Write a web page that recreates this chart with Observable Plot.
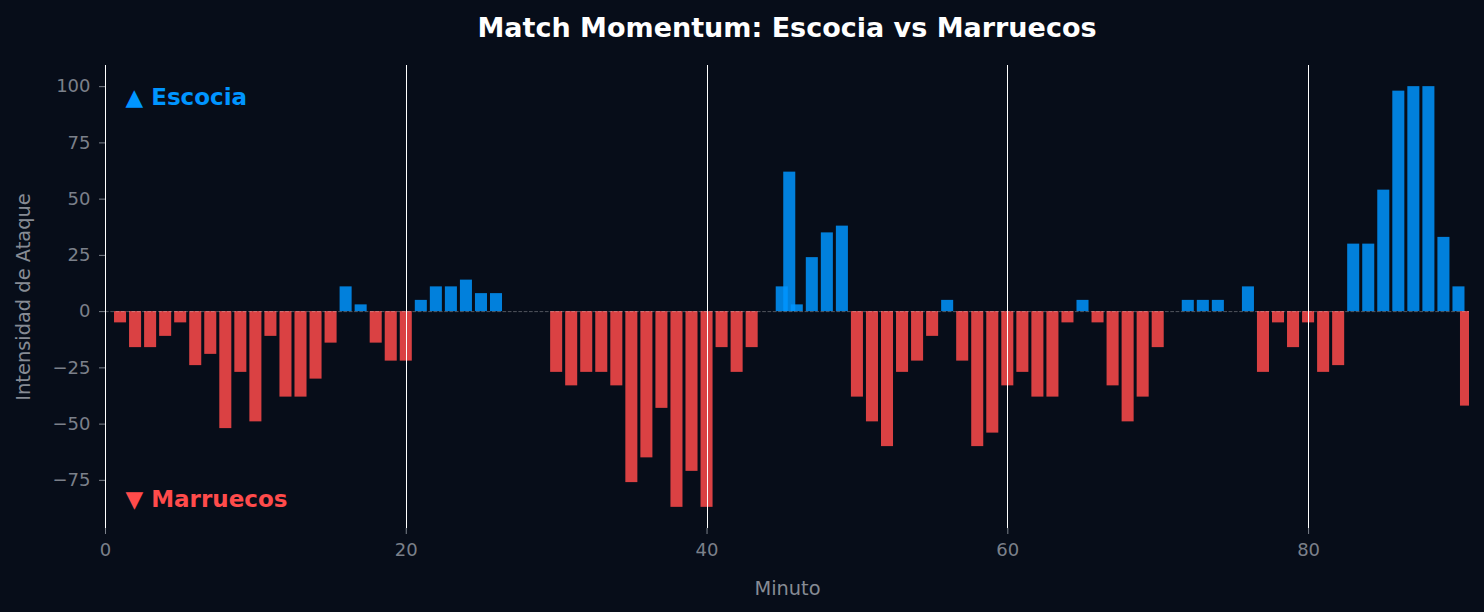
<!DOCTYPE html>
<html>
<head>
<meta charset="utf-8">
<script src="https://cdn.jsdelivr.net/npm/d3@7"></script>
<script src="https://cdn.jsdelivr.net/npm/@observablehq/plot@0.6"></script>
<style>
  html, body { margin: 0; padding: 0; background: #070d19; }
  #title {
    box-sizing: border-box; height: 55px; width: 1484px;
    padding: 14px 15px 0 105px; text-align: center;
    font-family: "DejaVu Sans", sans-serif; font-weight: bold;
    font-size: 27px; line-height: 27px; color: #ffffff;
  }
  #chart svg { display: block; }
</style>
</head>
<body>
<div id="title">Match Momentum: Escocia vs Marruecos</div>
<div id="chart"></div>
<script>
const teams = ["Escocia", "Marruecos"];
const minutes = [1,2,3,4,5,6,7,8,9,10,11,12,13,14,15,16,17,18,19,20,
  21,22,23,24,25,26,27,28,29,30,31,32,33,34,35,36,37,38,39,40,
  41,42,43,44,45,45.5,46,47,48,49,50,51,52,53,54,55,56,57,58,59,60,
  61,62,63,64,65,66,67,68,69,70,71,72,73,74,75,76,77,78,79,80,
  81,82,83,84,85,86,87,88,89,90,90.5];
const values = [-5,-16,-16,-11,-5,-24,-19,-52,-27,-49,-11,-38,-38,-30,-14,11,3,-14,-22,-22,
  5,11,11,14,8,8,0,0,0,-27,-33,-27,-27,-33,-76,-65,-43,-87,-71,-87,
  -16,-27,-16,0,11,62,3,24,35,38,-38,-49,-60,-27,-22,-11,5,-22,-60,-54,-33,
  -27,-38,-38,-5,5,-5,-33,-49,-38,-16,0,5,5,5,0,11,-27,-5,-16,-5,
  -27,-24,30,30,54,98,100,100,33,11,-42];
const xTicks = [0, 20, 40, 60, 80];
const yTicks = [-75, -50, -25, 0, 25, 50, 75, 100];
const periodMarks = [0, 20, 40, 60, 80];

const data = minutes.map((m, i) => ({minute: m, value: values[i]}));
const blue = "#0095ff", red = "#ff4b4b";
const tickColor = "#7b808a", labelColor = "#868b94";
const half = 0.4;

const chart = Plot.plot({
  width: 1484, height: 557,
  marginLeft: 105, marginRight: 15, marginTop: 10, marginBottom: 84,
  style: {background: "transparent", fontFamily: "DejaVu Sans, sans-serif", color: tickColor},
  x: {domain: [0, 90.7]},
  y: {domain: [-96.4, 109.4]},
  marks: [
    Plot.rect(data, {filter: d => d.value > 0, x1: d => d.minute - half, x2: d => d.minute + half,
      y1: 0, y2: "value", fill: blue, fillOpacity: 0.85, clip: true}),
    Plot.rect(data, {filter: d => d.value < 0, x1: d => d.minute - half, x2: d => d.minute + half,
      y1: 0, y2: "value", fill: red, fillOpacity: 0.85, clip: true}),
    Plot.ruleY([0], {stroke: "white", strokeOpacity: 0.3, strokeWidth: 1, strokeDasharray: "3.7,1.6"}),
    Plot.ruleX(periodMarks, {stroke: "white", strokeWidth: 1, shapeRendering: "crispEdges"}),
    Plot.axisX({ticks: xTicks, tickSize: 6, tickPadding: 9, label: null, fontSize: 18,
      stroke: tickColor, fill: tickColor, tickFormat: d3.format("d")}),
    Plot.axisY({ticks: yTicks, tickSize: 6, tickPadding: 9, label: null, fontSize: 18,
      stroke: tickColor, fill: tickColor, tickFormat: d3.format("d")}),
    Plot.text(["Minuto"], {text: d => d, frameAnchor: "bottom", dy: 60, fontSize: 19.4,
      fill: labelColor, lineAnchor: "middle"}),
    Plot.text(["Intensidad de Ataque"], {text: d => d, frameAnchor: "left", dx: -82, rotate: -90,
      fontSize: 19.4, fill: labelColor, lineAnchor: "middle", textAnchor: "middle"}),
    Plot.text([teams[0]], {text: d => "▲ " + d, frameAnchor: "top-left", dx: 20, dy: 32,
      textAnchor: "start", lineAnchor: "middle", fontSize: 23, fontWeight: "bold", fill: blue}),
    Plot.text([teams[1]], {text: d => "▼ " + d, frameAnchor: "bottom-left", dx: 20, dy: -29,
      textAnchor: "start", lineAnchor: "middle", fontSize: 23, fontWeight: "bold", fill: red})
  ]
});
document.getElementById("chart").appendChild(chart);
</script>
</body>
</html>
